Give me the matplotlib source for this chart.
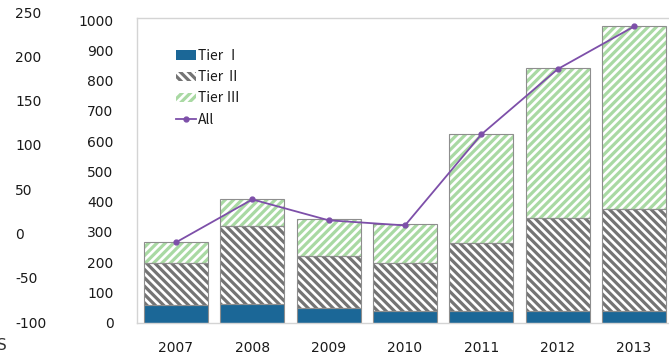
import matplotlib
matplotlib.use("Agg")
import matplotlib.pyplot as plt
import numpy as np

years = ["2007", "2008", "2009", "2010", "2011", "2012", "2013"]
tier1 = [58, 60, 47, 38, 38, 38, 38]
tier2 = [138, 260, 173, 158, 224, 306, 339]
tier3 = [70, 88, 122, 129, 363, 496, 603]
all_total = [265, 407, 338, 321, 622, 838, 979]
left_ticks = [-100, -50, 0, 50, 100, 150, 200, 250]
right_ticks = [0, 100, 200, 300, 400, 500, 600, 700, 800, 900, 1000]

plt.rcParams['font.family'] = ['DejaVu Sans', 'Noto Sans CJK SC']
plt.rcParams['hatch.linewidth'] = 2.3
plt.rcParams['axes.unicode_minus'] = False

W, H = 669, 358
fig = plt.figure(figsize=(W / 100, H / 100), dpi=100)

# main axes
x0, y0 = 137, 322.5
ax = fig.add_axes([x0 / W, (H - y0) / H, 536 / W, 304.5 / H])
x = np.arange(len(years))
bw = 0.84
b1 = np.array(tier1)
b2 = b1 + np.array(tier2)

blue = '#1b6797'
hgray = '#747474'
hgreen = '#a9d9a3'
edge = '#8e8e8e'

h1 = ax.bar(x, tier1, bw, color=blue, edgecolor=blue, linewidth=0)
h2 = ax.bar(x, tier2, bw, bottom=b1, color='white', edgecolor=hgray, hatch='\\\\\\\\', linewidth=0)
h3 = ax.bar(x, tier3, bw, bottom=b2, color='white', edgecolor=hgreen, hatch='////', linewidth=0)
for vals, bot in [(tier1, None), (tier2, b1), (tier3, b2)]:
    ax.bar(x, vals, bw, bottom=bot, fill=False, edgecolor=edge, linewidth=0.8)
ln, = ax.plot(x, all_total, color='#7d4fa9', linewidth=1.3, marker='o', markersize=3.5)

ax.set_xlim(-0.51, 6.51)
ax.set_ylim(0, 1007)
ax.set_yticks(right_ticks)
ax.set_yticklabels([str(v) for v in right_ticks])
ax.set_xticks(x)
ax.set_xticklabels(years)
ax.tick_params(axis='y', length=0, pad=17, labelsize=10, colors='#1a1a1a')
ax.tick_params(axis='x', length=0, pad=13, labelsize=10, colors='#1a1a1a')
for s in ax.spines.values():
    s.set_color('#d4d4d4')
    s.set_linewidth(1.0)

leg = fig.legend([h1, h2, h3, ln], ['Tier Ⅰ', 'Tier Ⅱ', 'Tier Ⅲ', 'All'],
                 loc='upper left', bbox_to_anchor=(176 / W, 1 - 49 / H),
                 frameon=False, borderpad=0, borderaxespad=0,
                 prop={'family': ['Noto Sans CJK JP', 'DejaVu Sans'], 'size': 10},
                 handlelength=1.45, handleheight=0.7, handletextpad=0.15,
                 labelspacing=0.52)
for t in leg.get_texts():
    t.set_color('#1a1a1a')

# cut-off left axis from neighbouring chart
ax2 = fig.add_axes([15 / W, (H - 322) / H, 0.0001, 310 / H])
ax2.set_ylim(-100, 250)
ax2.set_yticks(left_ticks)
ax2.set_yticklabels([str(v) for v in left_ticks])
ax2.yaxis.tick_right()
ax2.tick_params(axis='y', length=0, pad=0, labelsize=10, colors='#1a1a1a')
ax2.set_xticks([])
for s in ax2.spines.values():
    s.set_visible(False)
ax2.patch.set_visible(False)

fig.text(-3 / W, 1 - 345 / H, 'S', fontsize=11, color='#333333', va='center', ha='left')

fig.savefig('out.png', dpi=100)
